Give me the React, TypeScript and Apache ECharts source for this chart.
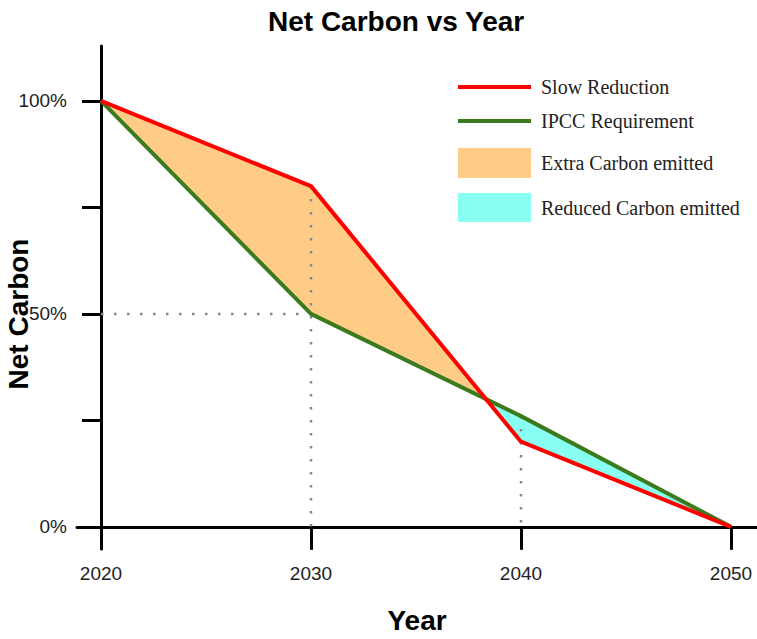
import React, { useEffect, useRef } from "react";
import * as echarts from "echarts";

const BASE_YEAR = 2020;
const years = [2020, 2030, 2040, 2050];
const slowReduction = [100, 80, 20, 0];
const ipccRequirement = [100, 50, 26, 0];
const yTickValues = [0, 25, 50, 75, 100];
const yLabelValues = [0, 50, 100];
const xTickYears = [2020, 2030, 2040, 2050];

const SANS = "'Liberation Sans', Arial, sans-serif";
const SERIF = "'Liberation Serif', 'Times New Roman', serif";
const RED = "#ff0000";
const GREEN = "#3c7a1e";
const ORANGE = "#ffcc88";
const CYAN = "#88fff0";

function buildOption() {
  const xs = years.map((y) => y - BASE_YEAR);
  const red = xs.map((x, i) => [x, slowReduction[i]]);
  const green = xs.map((x, i) => [x, ipccRequirement[i]]);

  // find crossing between the two lines
  let ci = 0;
  let cross: number[] = [xs[0], slowReduction[0]];
  for (let i = 0; i < xs.length - 1; i++) {
    const d0 = slowReduction[i] - ipccRequirement[i];
    const d1 = slowReduction[i + 1] - ipccRequirement[i + 1];
    if (d0 > 0 && d1 < 0) {
      const t = d0 / (d0 - d1);
      ci = i;
      cross = [
        xs[i] + t * (xs[i + 1] - xs[i]),
        slowReduction[i] + t * (slowReduction[i + 1] - slowReduction[i]),
      ];
      break;
    }
  }
  const extraPoly = [
    ...red.slice(0, ci + 1),
    cross,
    ...green.slice(0, ci + 1).reverse(),
  ];
  const reducedPoly = [
    cross,
    ...green.slice(ci + 1),
    ...red.slice(ci + 1).reverse(),
  ];

  const polySeries = (name: string, pts: number[][], color: string) => ({
    name,
    type: "custom",
    data: [[0, 0]],
    itemStyle: { color },
    z: 1,
    silent: true,
    renderItem: (_p: any, api: any) => ({
      type: "polygon",
      shape: { points: pts.map((p) => api.coord(p)) },
      style: { fill: color, stroke: "none" },
    }),
  });

  const dotted = {
    color: "#888",
    width: 2.5,
    type: [2.5, 10.5],
  };
  const guide = (pts: number[][]) => ({
    type: "line",
    data: pts,
    symbol: "none",
    silent: true,
    lineStyle: dotted,
    z: 2,
  });

  const legendBase = {
    orient: "vertical",
    left: 458,
    padding: 0,
    itemWidth: 73,
    selectedMode: false,
    textStyle: {
      fontFamily: SERIF,
      fontSize: 20,
      color: "#222",
      padding: [0, 0, 0, 5],
    },
  };

  return {
    animation: false,
    title: {
      text: "Net Carbon vs Year",
      left: 268,
      top: 7,
      padding: 0,
      textStyle: { fontFamily: SANS, fontSize: 28, fontWeight: "bold", color: "#000" },
    },
    legend: [
      {
        ...legendBase,
        top: 77,
        itemHeight: 4,
        data: [{ name: "Slow Reduction", icon: "rect", itemStyle: { color: RED } }],
      },
      {
        ...legendBase,
        top: 111,
        itemHeight: 4,
        data: [{ name: "IPCC Requirement", icon: "rect", itemStyle: { color: GREEN } }],
      },
      {
        ...legendBase,
        top: 148,
        itemHeight: 30,
        data: [{ name: "Extra Carbon emitted", icon: "rect" }],
      },
      {
        ...legendBase,
        top: 193,
        itemHeight: 29,
        data: [{ name: "Reduced Carbon emitted", icon: "rect" }],
      },
    ],
    grid: {
      left: 77,
      right: 0,
      top: 46,
      bottom: 90,
      containLabel: false,
      outerBoundsMode: "none",
    },
    xAxis: {
      type: "value",
      min: -24 / 21,
      max: 656 / 21,
      name: "Year",
      nameLocation: "middle",
      nameGap: 57,
      nameMoveOverlap: false,
      nameTextStyle: { fontFamily: SANS, fontSize: 28, fontWeight: "bold", color: "#000" },
      splitLine: { show: false },
      axisLine: { show: true, onZero: true, lineStyle: { color: "#000", width: 3 } },
      axisTick: {
        show: true,
        length: 23,
        customValues: xTickYears.map((y) => y - BASE_YEAR),
        lineStyle: { color: "#000", width: 3 },
      },
      axisLabel: {
        customValues: xTickYears.map((y) => y - BASE_YEAR),
        formatter: (v: number) => String(Math.round(v + BASE_YEAR)),
        margin: 15,
        fontFamily: SANS,
        fontSize: 19,
        color: "#222",
      },
    },
    yAxis: {
      type: "value",
      min: -5.2,
      max: 112.9,
      name: "Net Carbon",
      nameLocation: "middle",
      nameRotate: 90,
      nameGap: 45,
      nameMoveOverlap: false,
      nameTextStyle: {
        fontFamily: SANS,
        fontSize: 28,
        fontWeight: "bold",
        color: "#000",
        padding: [0, 33, 0, 0],
      },
      splitLine: { show: false },
      axisLine: { show: true, onZero: true, lineStyle: { color: "#000", width: 3 } },
      axisTick: {
        show: true,
        length: 19,
        customValues: yTickValues,
        lineStyle: { color: "#000", width: 3 },
      },
      axisLabel: {
        customValues: yLabelValues,
        formatter: (v: number) => `${v}%`,
        margin: 10,
        fontFamily: SANS,
        fontSize: 19,
        color: "#222",
      },
    },
    series: [
      polySeries("Extra Carbon emitted", extraPoly, ORANGE),
      polySeries("Reduced Carbon emitted", reducedPoly, CYAN),
      guide([
        [xs[0], ipccRequirement[1]],
        [xs[1], ipccRequirement[1]],
      ]),
      guide([
        [xs[1], slowReduction[1]],
        [xs[1], 0],
      ]),
      guide([
        [xs[2], ipccRequirement[2]],
        [xs[2], 0],
      ]),
      {
        name: "IPCC Requirement",
        type: "line",
        data: green,
        symbol: "none",
        z: 3,
        color: GREEN,
        lineStyle: { color: GREEN, width: 4 },
      },
      {
        name: "Slow Reduction",
        type: "line",
        data: red,
        symbol: "none",
        z: 4,
        color: RED,
        lineStyle: { color: RED, width: 4 },
      },
    ],
  };
}

export default function App() {
  const ref = useRef<HTMLDivElement>(null);
  useEffect(() => {
    if (!ref.current) return;
    const chart = echarts.init(ref.current, undefined, { renderer: "svg" });
    chart.setOption(buildOption() as any);
    return () => chart.dispose();
  }, []);
  return (
    <div
      ref={ref}
      style={{ position: "absolute", left: 0, top: 0, width: 757, height: 639, background: "#fff" }}
    />
  );
}
